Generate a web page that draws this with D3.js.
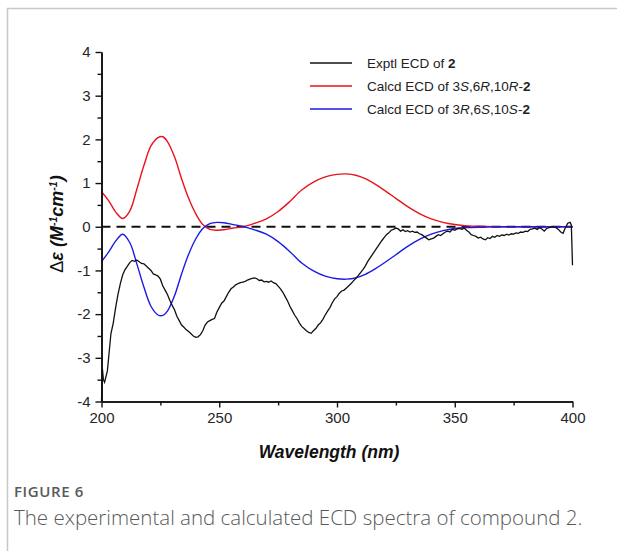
<!DOCTYPE html>
<html>
<head>
<meta charset="utf-8">
<script src="https://cdn.jsdelivr.net/npm/d3@7"></script>
<style>
  html, body { margin: 0; padding: 0; background: #fff; }
  svg { display: block; }
</style>
</head>
<body>
<div id="chart"></div>
<script>
// calculated spectra, wavelength (nm) and delta epsilon
const calcWl = [200, 203, 206, 209, 212, 215, 218, 221, 224, 226, 228, 231, 234, 237, 240, 243, 246, 249, 252, 256, 260, 265, 270, 275, 280, 285, 290, 295, 300, 304, 308, 312, 316, 320, 325, 330, 335, 340, 345, 350, 355, 360, 370, 380, 390, 400];
const calcSRR = [0.80, 0.60, 0.34, 0.19, 0.36, 0.86, 1.40, 1.85, 2.04, 2.06, 1.95, 1.60, 1.10, 0.65, 0.30, 0.05, -0.06, -0.08, -0.07, -0.03, 0.0, 0.08, 0.18, 0.35, 0.58, 0.84, 1.02, 1.14, 1.20, 1.21, 1.18, 1.10, 0.98, 0.84, 0.65, 0.46, 0.30, 0.18, 0.10, 0.05, 0.02, 0.01, 0, 0, 0, 0];
const calcRSS = [-0.80, -0.58, -0.33, -0.17, -0.36, -0.85, -1.38, -1.82, -2.02, -2.03, -1.93, -1.58, -1.08, -0.63, -0.28, -0.04, 0.07, 0.10, 0.09, 0.05, 0.01, -0.07, -0.17, -0.34, -0.57, -0.83, -1.01, -1.13, -1.19, -1.20, -1.17, -1.09, -0.97, -0.83, -0.64, -0.45, -0.29, -0.17, -0.09, -0.04, -0.02, -0.01, 0, 0, 0, 0];

// experimental spectrum [nm, delta epsilon]
const exptl = [
  [200.0, -4.0], [200.4, -3.25], [200.8, -3.5], [201.3, -3.56], [201.8, -3.45], [202.5, -3.3], [203.2, -2.9],
  [204, -2.45], [205, -2.2], [206, -1.85], [207, -1.55], [208, -1.3], [209, -1.1], [210, -0.98], [211, -0.9],
  [212, -0.82], [213, -0.77], [214, -0.79], [215, -0.76], [216, -0.8], [217, -0.84], [218, -0.85], [219, -0.9],
  [220, -0.95], [221, -1.0], [222, -1.08], [223, -1.1], [224, -1.13], [225, -1.2], [226, -1.35], [227, -1.45],
  [228, -1.55], [229, -1.68], [230, -1.8], [231, -1.9], [232, -2.05], [233, -2.15], [234, -2.25], [235, -2.3],
  [236, -2.36], [237, -2.4], [238, -2.45], [239, -2.5], [240, -2.53], [241, -2.52], [242, -2.47], [243, -2.38],
  [244, -2.25], [245, -2.18], [246, -2.15], [247, -2.12], [248, -2.1], [249, -1.95], [250, -1.85], [251, -1.75],
  [252, -1.7], [253, -1.6], [254, -1.5], [255, -1.42], [256, -1.38], [257, -1.33], [258, -1.3], [259, -1.28],
  [260, -1.27], [261, -1.25], [262, -1.22], [263, -1.2], [264, -1.18], [265, -1.17], [266, -1.19], [267, -1.23],
  [268, -1.22], [269, -1.26], [270, -1.25], [271, -1.27], [272, -1.24], [273, -1.28], [274, -1.3], [275, -1.36],
  [276, -1.42], [277, -1.5], [278, -1.6], [279, -1.7], [280, -1.82], [281, -1.92], [282, -2.02], [283, -2.1],
  [284, -2.2], [285, -2.28], [286, -2.33], [287, -2.38], [288, -2.42], [289, -2.44], [290, -2.38], [291, -2.33],
  [292, -2.25], [293, -2.2], [294, -2.12], [295, -2.02], [296, -1.93], [297, -1.85], [298, -1.74], [299, -1.65],
  [300, -1.6], [301, -1.52], [302, -1.47], [303, -1.45], [304, -1.4], [305, -1.35], [306, -1.3], [307, -1.24],
  [308, -1.18], [309, -1.12], [310, -1.05], [311, -0.98], [312, -0.9], [313, -0.8], [314, -0.72], [315, -0.64],
  [316, -0.56], [317, -0.48], [318, -0.4], [319, -0.32], [320, -0.25], [321, -0.18], [322, -0.14], [323, -0.08],
  [324, -0.06], [325, -0.03], [326, -0.05], [327, -0.1], [328, -0.07], [329, -0.11], [330, -0.09], [331, -0.12],
  [332, -0.1], [333, -0.13], [334, -0.12], [335, -0.16], [336, -0.18], [337, -0.22], [338, -0.26], [339, -0.3],
  [340, -0.28], [341, -0.26], [342, -0.22], [343, -0.18], [344, -0.2], [345, -0.16], [346, -0.12], [347, -0.1],
  [348, -0.12], [349, -0.06], [350, -0.08], [351, -0.05], [352, -0.04], [353, -0.06], [354, -0.03], [355, -0.08],
  [356, -0.12], [357, -0.18], [358, -0.2], [359, -0.22], [360, -0.26], [361, -0.24], [362, -0.28], [363, -0.3],
  [364, -0.25], [365, -0.27], [366, -0.22], [367, -0.24], [368, -0.2], [369, -0.22], [370, -0.19], [371, -0.2],
  [372, -0.17], [373, -0.19], [374, -0.16], [375, -0.17], [376, -0.14], [377, -0.15], [378, -0.12], [379, -0.13],
  [380, -0.1], [381, -0.11], [382, -0.06], [383, -0.05], [384, -0.03], [385, -0.06], [386, -0.02], [387, -0.05],
  [388, -0.1], [389, -0.04], [390, -0.02], [391, -0.01], [392, 0], [393, -0.02], [394, -0.06], [395, -0.12],
  [396, -0.15], [397, -0.02], [398, 0.08], [399, 0.1], [399.5, 0.04], [400, -0.88]
];

const xMajor = [200, 250, 300, 350, 400];
const xMinor = [225, 275, 325, 375];
const yMajor = [-4, -3, -2, -1, 0, 1, 2, 3, 4];
const yMinor = [-3.5, -2.5, -1.5, -0.5, 0.5, 1.5, 2.5, 3.5];

const W = 617, H = 551;

const svg = d3.select("#chart").append("svg")
    .attr("width", W)
    .attr("height", H);

// figure frame (top + left edges visible)
svg.append("path")
    .attr("d", `M7.5,${H} L7.5,8.5 L${W},8.5`)
    .attr("fill", "none")
    .attr("stroke", "#c8c8c8")
    .attr("stroke-width", 1.5);

const x = d3.scaleLinear().domain([200, 400]).range([101.5, 572.5]);
const y = d3.scaleLinear().domain([-4, 4]).range([401.5, 52]);

const font = "'Liberation Sans', Arial, sans-serif";

// zero line
svg.append("line")
    .attr("x1", x(200)).attr("x2", x(400))
    .attr("y1", y(0)).attr("y2", y(0))
    .attr("stroke", "#111")
    .attr("stroke-width", 2)
    .attr("stroke-dasharray", "9,6");

const calcLine = d3.line().x(d => x(d[0])).y(d => y(d[1])).curve(d3.curveCatmullRom);

svg.append("path")
    .datum(calcWl.map((w, i) => [w, calcSRR[i]]))
    .attr("d", calcLine)
    .attr("fill", "none")
    .attr("stroke", "#e8141c")
    .attr("stroke-width", 1.4);

svg.append("path")
    .datum(calcWl.map((w, i) => [w, calcRSS[i]]))
    .attr("d", calcLine)
    .attr("fill", "none")
    .attr("stroke", "#1a1ae6")
    .attr("stroke-width", 1.4);

svg.append("path")
    .datum(exptl)
    .attr("d", d3.line().x(d => x(d[0])).y(d => y(d[1])))
    .attr("fill", "none")
    .attr("stroke", "#111")
    .attr("stroke-width", 1.3);

// axes
function styleAxis(g) {
    g.select(".domain").attr("stroke", "#111").attr("stroke-width", 1.6);
    g.selectAll(".tick line").attr("stroke", "#111").attr("stroke-width", 1.4);
    g.selectAll(".tick text").attr("fill", "#262626").style("font-family", font).style("font-size", "15px");
}
const fmt = d => String(d); // plain hyphen minus as in the original

svg.append("g")
    .attr("transform", `translate(0,${y(-4)})`)
    .call(d3.axisBottom(x).tickValues(xMinor).tickSize(4).tickFormat("").tickSizeOuter(0))
    .call(styleAxis);
svg.append("g")
    .attr("transform", `translate(0,${y(-4)})`)
    .call(d3.axisBottom(x).tickValues(xMajor).tickSize(6).tickPadding(5).tickSizeOuter(0).tickFormat(fmt))
    .call(styleAxis);

svg.append("g")
    .attr("transform", `translate(${x(200)},0)`)
    .call(d3.axisLeft(y).tickValues(yMinor).tickSize(4).tickFormat("").tickSizeOuter(0))
    .call(styleAxis);
svg.append("g")
    .attr("transform", `translate(${x(200)},0)`)
    .call(d3.axisLeft(y).tickValues(yMajor).tickSize(6).tickPadding(5).tickSizeOuter(0).tickFormat(fmt))
    .call(styleAxis);

// axis titles
svg.append("text")
    .attr("x", 329).attr("y", 458)
    .attr("text-anchor", "middle")
    .style("font-family", font)
    .style("font-size", "17.5px")
    .style("font-weight", "bold")
    .style("font-style", "italic")
    .attr("fill", "#111")
    .text("Wavelength  (nm)");

const yl = svg.append("text")
    .attr("transform", "translate(63,224) rotate(-90)")
    .attr("text-anchor", "middle")
    .style("font-family", font)
    .style("font-size", "18px")
    .style("font-weight", "bold")
    .style("font-style", "italic")
    .attr("fill", "#111");
yl.append("tspan").style("font-weight", "normal").style("font-style", "normal").text("\u0394");
yl.append("tspan").text("\u03b5 (M");
yl.append("tspan").attr("dy", -6).style("font-size", "10.5px").text("-1");
yl.append("tspan").attr("dy", 6).text("cm");
yl.append("tspan").attr("dy", -6).style("font-size", "10.5px").text("-1");
yl.append("tspan").attr("dy", 6).text(")");

// legend
const legendItems = [
    { color: "#111", parts: [["Exptl ECD of ", ""], ["2", "b"]] },
    { color: "#e8141c", parts: [["Calcd ECD of 3", ""], ["S", "i"], [",6", ""], ["R", "i"], [",10", ""], ["R", "i"], ["-", ""], ["2", "b"]] },
    { color: "#1a1ae6", parts: [["Calcd ECD of 3", ""], ["R", "i"], [",6", ""], ["S", "i"], [",10", ""], ["S", "i"], ["-", ""], ["2", "b"]] }
];
const legendY = [63, 86, 109];

legendItems.forEach((item, i) => {
    svg.append("line")
        .attr("x1", 310).attr("x2", 352)
        .attr("y1", legendY[i]).attr("y2", legendY[i])
        .attr("stroke", item.color)
        .attr("stroke-width", 1.4);
    const t = svg.append("text")
        .attr("x", 367).attr("y", legendY[i] + 5)
        .style("font-family", font)
        .style("font-size", "13.5px")
        .attr("fill", "#222");
    item.parts.forEach(p => {
        const s = t.append("tspan").text(p[0]);
        if (p[1] === "b") s.style("font-weight", "bold");
        if (p[1] === "i") s.style("font-style", "italic");
    });
});

// caption
svg.append("text")
    .attr("x", 14).attr("y", 497)
    .style("font-family", "'Open Sans', sans-serif")
    .style("font-size", "15px")
    .style("font-weight", "600")
    .style("letter-spacing", "0.6px")
    .attr("fill", "#595959")
    .text("FIGURE 6");

svg.append("text")
    .attr("x", 14).attr("y", 525)
    .style("font-family", "'Open Sans', sans-serif")
    .style("font-size", "20.5px")
    .style("font-weight", "300")
    .attr("fill", "#595959")
    .text("The experimental and calculated ECD spectra of compound 2.");
</script>
</body>
</html>
